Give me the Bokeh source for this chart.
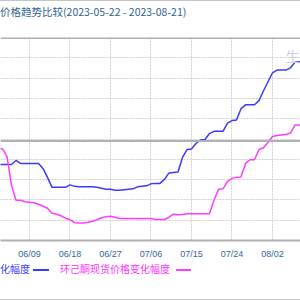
import pandas as pd
from bokeh.plotting import figure
from bokeh.layouts import column
from bokeh.models import Range1d, FixedTicker, Span, Label, ColumnDataSource, Div
from bokeh.embed import file_html
from bokeh.resources import INLINE

# ---- data (% change) ----
title_text = "价格趋势比较(2023-05-22 - 2023-08-21)"
series_a_label = "化幅度"
series_b_label = "环己酮现货价格变化幅度"
period_start = "2023-05-22"
first_visible_date = "2023-06-02"

series_a = [-5.77, -5.77, -5.77, -5.77, -4.78, -5.52, -5.52, -5.52, -5.52, -5.52,
            -6.75, -8.95, -11.41, -11.41, -11.41, -11.41, -10.79, -11.16, -11.29, -11.29,
            -11.29, -11.29, -11.41, -11.65, -11.90, -11.90, -12.14, -12.14, -12.02, -11.90,
            -11.78, -11.29, -11.16, -11.04, -10.55, -10.43, -10.43, -9.45, -7.85, -7.73,
            -7.65, -4.05, -2.09, -1.96, -0.61, 0.25, 0.37, 1.84, 2.38, 2.40,
            2.40, 4.42, 5.03, 5.20, 7.97, 8.91, 8.95, 8.95, 9.94, 12.39,
            14.60, 16.81, 17.47, 17.47, 17.47, 18.03, 19.38, 19.50, 19.50]

series_b = [-1.91, -1.91, -3.80, -10.92, -14.60, -14.60, -14.97, -15.09, -15.21, -15.58,
            -16.07, -16.56, -17.79, -18.03, -18.40, -19.01, -19.38, -20.12, -20.17, -20.17,
            -19.99, -19.75, -19.38, -18.89, -18.65, -18.52, -18.77, -19.09, -19.09, -19.09,
            -19.09, -19.09, -19.09, -19.09, -19.09, -19.33, -19.33, -19.33, -18.77, -18.03,
            -18.16, -18.11, -17.91, -17.91, -17.91, -17.91, -17.91, -17.91, -14.60, -11.90,
            -11.78, -9.94, -9.20, -8.95, -8.83, -5.52, -4.61, -4.61, -2.09, -1.67,
            -0.37, 1.10, 1.35, 1.47, 1.59, 1.96, 3.93, 3.97, 3.97]

tick_labels = ["06/09", "06/18", "06/27", "07/06", "07/15", "07/24", "08/02"]

# ---- build ----
dates = pd.date_range(first_visible_date, periods=len(series_a), freq="D")
src = ColumnDataSource(dict(x=dates, a=series_a, b=series_b))

t0 = pd.Timestamp(period_start)
x_start = t0 + pd.Timedelta(days=11.556)
x_end = x_start + pd.Timedelta(days=66.667)
y_start, y_end, y_step = -24.5, 25.5, 5.0

cjk = "Noto Sans CJK SC"
blue, magenta = "#3a3aff", "#ff3cff"
rule = "#c4c4c4"

# title strip (top 30 px)
head = Div(width=300, height=30, margin=0, text=(
    '<div style="position:relative;width:300px;height:30px;overflow:hidden;'
    f'font-family:\'{cjk}\';white-space:nowrap">'
    f'<div style="position:absolute;left:0;top:0;width:300px;height:1px;background:{rule}"></div>'
    '<div style="position:absolute;left:0;top:4px;font-size:10.5px;line-height:16px;'
    f'color:#2f5f8f">{title_text}</div></div>'))

p = figure(width=300, height=232, x_axis_type="datetime", y_axis_location=None,
           x_range=Range1d(x_start, x_end), y_range=Range1d(y_start, y_end),
           output_backend="svg", toolbar_location=None, margin=0,
           min_border_left=0, min_border_right=0, min_border_top=7, min_border_bottom=22)
p.outline_line_color = None
p.background_fill_color = "white"
p.border_fill_color = "white"

tick_dates = pd.to_datetime(["2023-" + t.replace("/", "-") for t in tick_labels])
tick_ms = [int(d.value // 10**6) for d in tick_dates]
p.xaxis.ticker = FixedTicker(ticks=tick_ms)
p.xaxis.major_label_overrides = {ms: lab for ms, lab in zip(tick_ms, tick_labels)}
p.xaxis.axis_line_color = "#b0b0b0"
p.xaxis.axis_line_width = 2
p.xaxis.major_tick_line_color = None
p.xaxis.minor_tick_line_color = None
p.xaxis.major_tick_out = 0
p.xaxis.major_tick_in = 0
p.xaxis.minor_tick_out = 0
p.xaxis.minor_tick_in = 0
p.xaxis.major_label_text_color = "#336699"
p.xaxis.major_label_text_font = "Liberation Sans"
p.xaxis.major_label_text_font_size = "9px"
p.xaxis.major_label_standoff = 8

p.xgrid.ticker = FixedTicker(ticks=tick_ms)
p.ygrid.ticker = FixedTicker(ticks=[y_start + y_step * i for i in range(1, 10)])
for g in (p.xgrid, p.ygrid):
    g.grid_line_color = "#d0d0d0"
    g.grid_line_dash = "2 1"
    g.grid_line_width = 1

p.add_layout(Span(location=0, dimension="width", line_color="#b0b0b0", line_width=2))
p.add_layout(Span(location=y_end, dimension="width", line_color="#b0b0b0", line_width=3))

p.line("x", "a", source=src, line_color=blue, line_width=1.5)
p.line("x", "b", source=src, line_color=magenta, line_width=1.5)

p.add_layout(Label(x=285, y=203 - 18, x_units="screen", y_units="screen", text="生",
                   text_color="#c8d2e2", text_font_size="14px", text_font=cjk,
                   text_baseline="middle"))

# legend strip (bottom 38 px)
foot = Div(width=300, height=38, margin=0, text=(
    '<div style="position:relative;width:300px;height:38px;overflow:hidden;'
    f'font-family:\'{cjk}\';font-size:10px;line-height:14px;white-space:nowrap">'
    f'<div style="position:absolute;left:0;top:0;color:{blue}">{series_a_label}</div>'
    f'<div style="position:absolute;left:33px;top:7px;width:16px;height:1.5px;background:{blue}"></div>'
    f'<div style="position:absolute;left:60px;top:0;color:#ff33ff">{series_b_label}</div>'
    f'<div style="position:absolute;left:176px;top:7px;width:15px;height:1.5px;background:{magenta}"></div>'
    f'<div style="position:absolute;left:0;top:37px;width:300px;height:1px;background:{rule}"></div>'
    '</div>'))

layout = column(head, p, foot, spacing=0, margin=0)
open("out.html", "w").write(file_html(layout, INLINE))
